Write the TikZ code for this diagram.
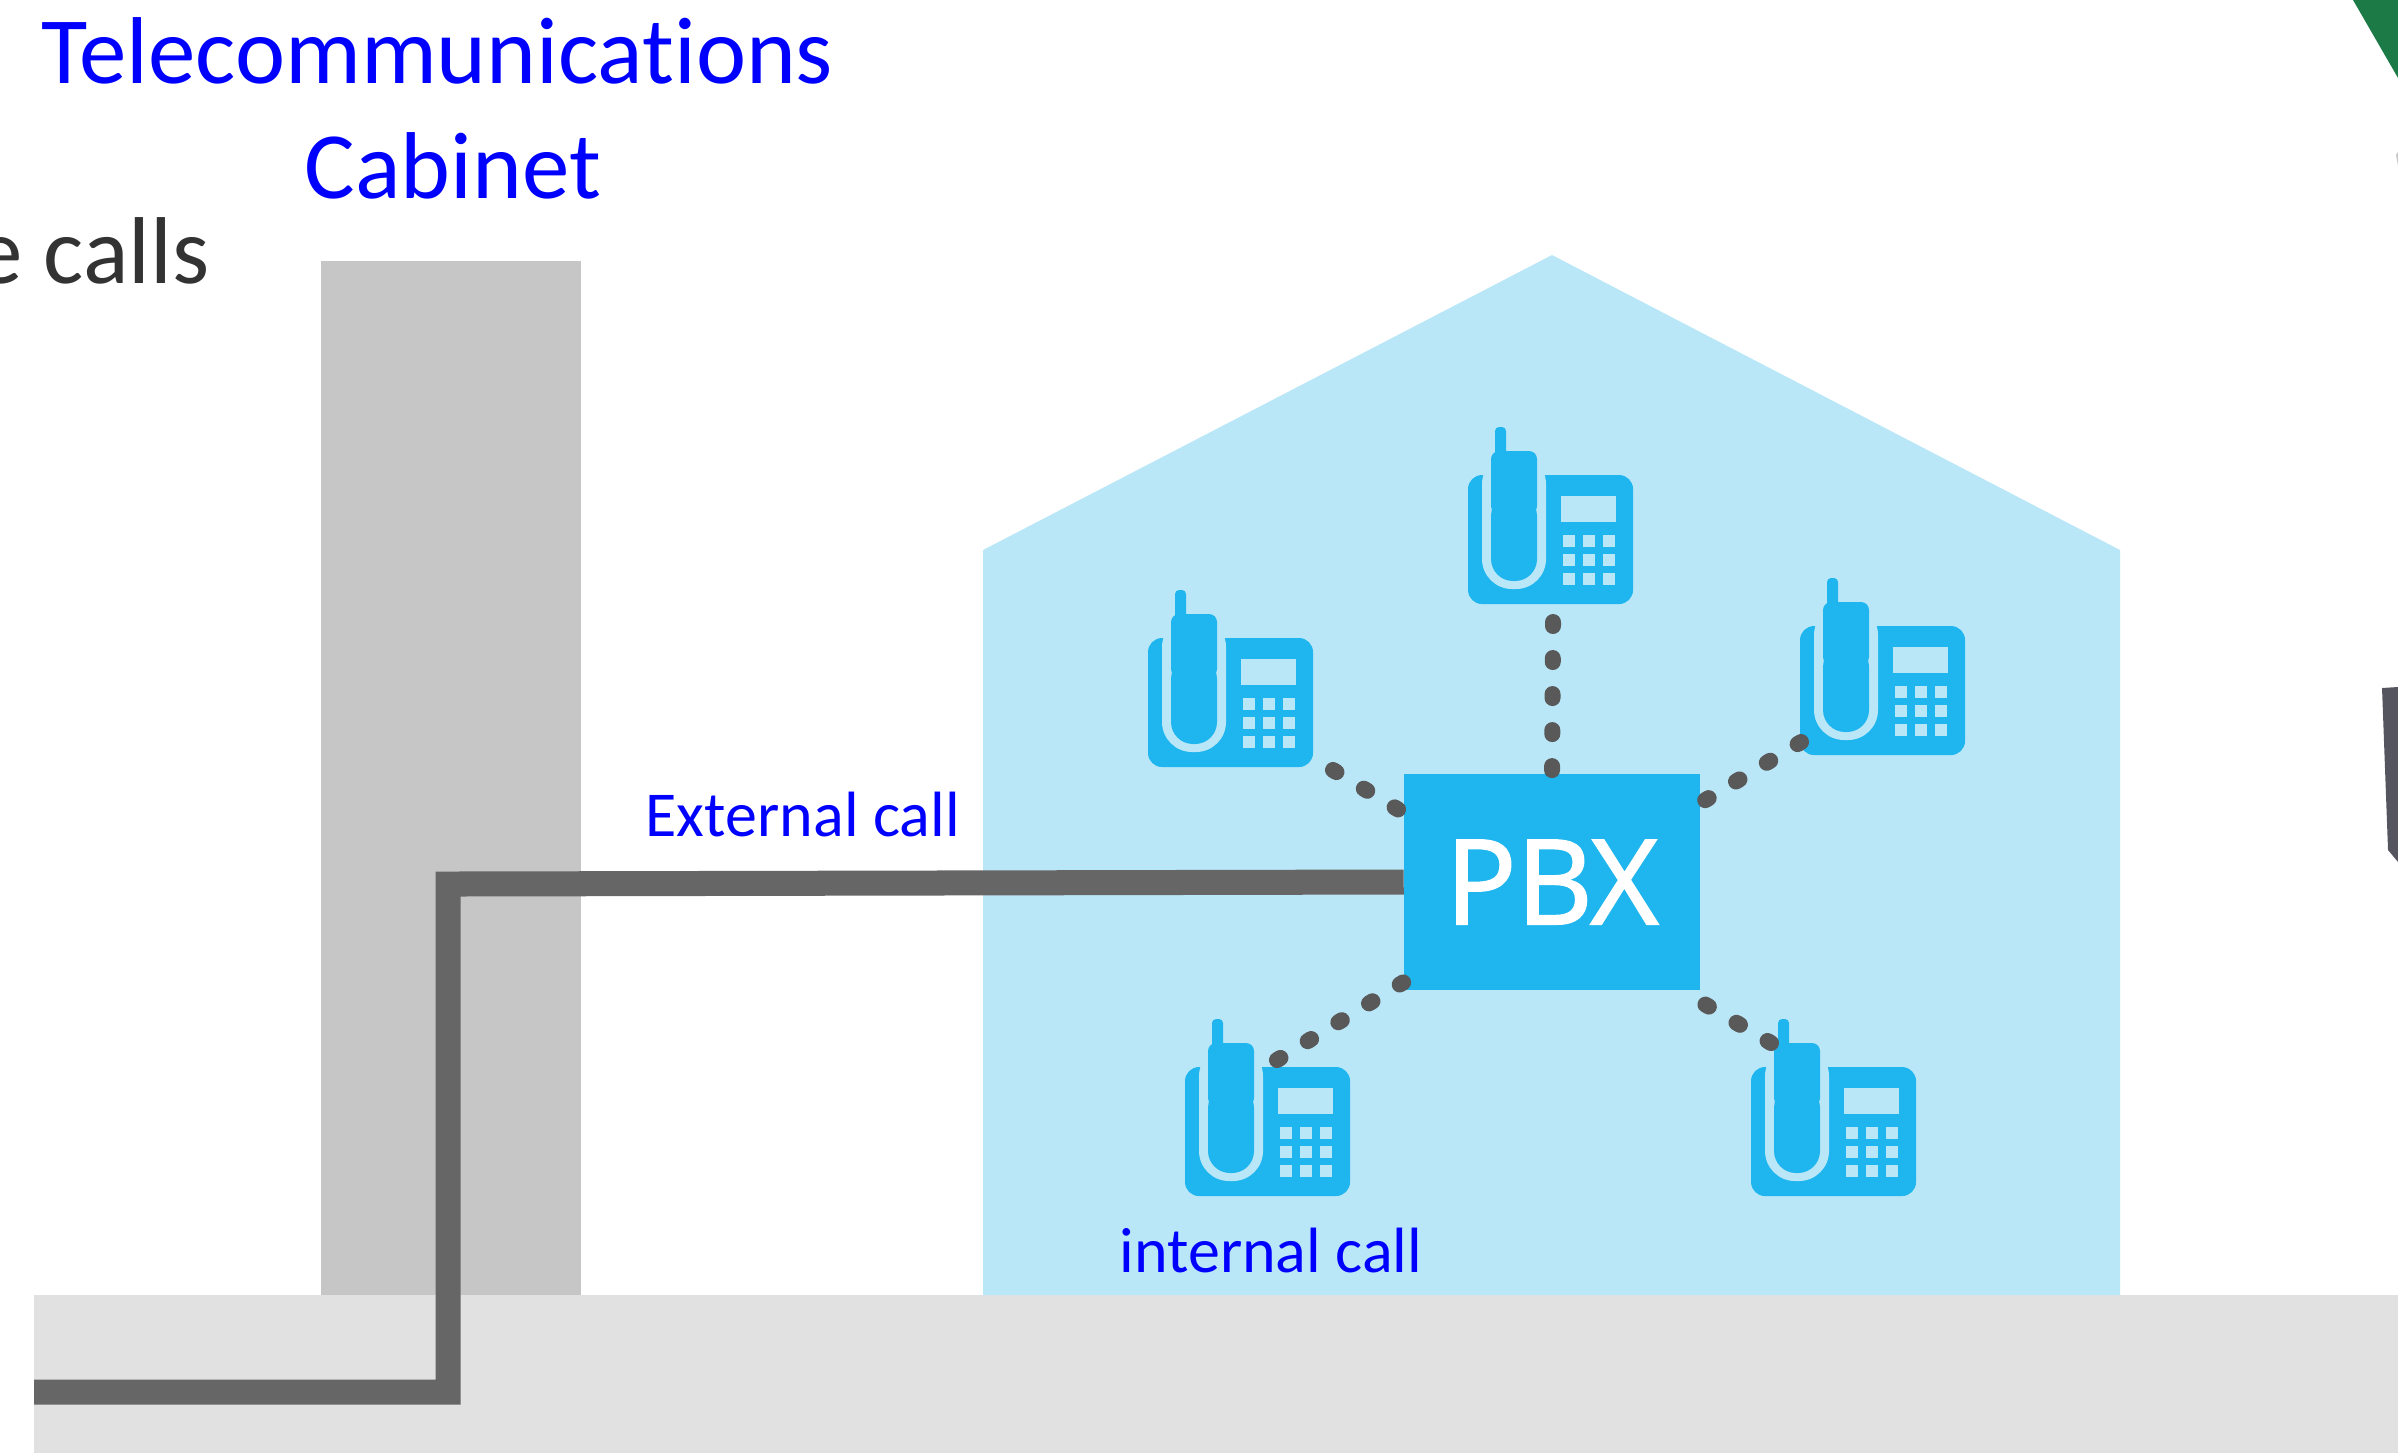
\documentclass[tikz,border=0pt]{standalone}
\usepackage{fontspec}
\setmainfont[Ligatures=CommonOff]{Carlito}
\newfontfamily\pbxfont[FakeBold=1.6]{Open Sans}
\usetikzlibrary{arrows}

\definecolor{househue}{HTML}{BAE7F8}
\definecolor{phonehue}{HTML}{1FB5EE}
\definecolor{wirehue}{HTML}{666666}
\definecolor{dothue}{HTML}{595959}
\definecolor{cabinethue}{HTML}{C6C6C6}
\definecolor{groundhue}{HTML}{E1E1E1}
\definecolor{boardhue}{HTML}{1B7A45}
\definecolor{casehue}{HTML}{55555F}
\definecolor{callblue}{HTML}{0000FF}

\tikzset{
    bigtext/.style={font=\fontsize{27}{32}\selectfont, inner sep=0pt, anchor=base west},
    calltext/.style={font=\fontsize{18.2}{22}\selectfont, text=callblue, inner sep=0pt, anchor=base west},
    wire/.style={draw=wirehue, line width=0.25cm, miter limit=10},
    dots/.style={draw=dothue, line width=0.16cm, line cap=round, dash pattern=on 0.04cm off 0.32cm},
    phone/.pic={
        \fill[phonehue, rounded corners=0.14cm] (0,-129) rectangle (165,0);
        \fill[househue, rounded corners=0.3cm] (14,-150) rectangle (78,-15);
        \fill[phonehue, rounded corners=0.08cm] (23,-153) rectangle (69,-90);
        \fill[phonehue, rounded corners=0.22cm] (23,-110) rectangle (69,-23);
        \fill[phonehue, rounded corners=0.04cm] (27,-177) rectangle (38,-145);
        \fill[househue] (93,-108) rectangle (148,-82);
        \foreach \col in {101,121,141} {
            \foreach \row in {63,44,25} {
                \fill[househue] (\col-6,-\row-6) rectangle (\col+6,-\row+6);
            }
        }
    }
}

\begin{document}
\begin{tikzpicture}[x=0.01cm,y=-0.01cm]
    \useasboundingbox (0,0) rectangle (2398,1453);

    \fill[cabinethue] (321,261) rectangle (581,1295);
    \fill[groundhue] (34,1295) rectangle (2398,1453);
    \fill[househue] (983,1295) -- (983,550) -- (1552,255) -- (2120,550) -- (2120,1295) -- cycle;

    \fill[boardhue] (2353,0) -- (2398,78) -- (2398,0) -- cycle;
    \fill[cabinethue] (2396,155) -- (2398,152) -- (2398,166) -- cycle;
    \fill[casehue] (2382,688) -- (2398,687) -- (2398,862) -- (2388,850) -- cycle;

    \node[bigtext, text=callblue] (telecom) at (41,83) {Telecommunications};
    \node[bigtext, text=callblue] (cabinet) at (304,198) {Cabinet};
    \node[bigtext, text=black!80, anchor=base east] (calls) at (210,283) {e calls};
    \node[calltext] (external) at (645,836) {External call};
    \node[calltext] (internal) at (1119,1272) {internal call};

    \pic at (1468,604) {phone};
    \pic at (1148,767) {phone};
    \pic at (1800,755) {phone};
    \pic at (1185,1196) {phone};
    \pic at (1751,1196) {phone};

    \node[fill=phonehue, inner sep=0pt, minimum width=2.95cm, minimum height=2.15cm] (pbx) at (1552,882) {};
    \node[text=white, inner sep=0pt, font=\pbxfont\fontsize{33.5}{40}\selectfont] (pbxlabel) at (pbx.center) {PBX};

    \coordinate (tietop) at (1553,622);
    \coordinate (tieleft) at (1333,770);
    \coordinate (tieright) at (1801,742);
    \coordinate (tielow) at (1277,1060);
    \coordinate (tiehigh) at (1771,1043);
    \coordinate (bend) at (448,884);
    \coordinate (corner) at (448,1392);
    \coordinate (wireend) at (34,1392);

    \draw[dots] (tietop) -- (pbx.north);
    \draw[dots] (tieleft) -- (pbx.155);
    \draw[dots] (tieright) -- (pbx.28);
    \draw[dots] (tielow) -- (pbx.214);
    \draw[dots] (tiehigh) -- (pbx.320);

    \draw[wire] (pbx.west) -- (bend) -- (corner) -- (wireend);
\end{tikzpicture}
\end{document}
